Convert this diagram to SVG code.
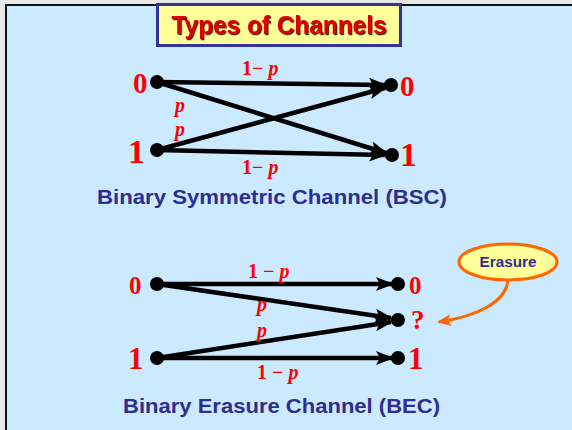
<svg xmlns="http://www.w3.org/2000/svg" width="572" height="430" viewBox="0 0 572 430">
<defs>
<marker id="ah" markerUnits="userSpaceOnUse" markerWidth="18" markerHeight="14" refX="16" refY="7" orient="auto">
<path d="M0,0 L18,7 L0,14 L4,7 Z" fill="#000"/>
</marker>
<marker id="ao" markerUnits="userSpaceOnUse" markerWidth="14" markerHeight="12" refX="12" refY="6" orient="auto">
<path d="M0,0 L14,6 L0,12 L3,6 Z" fill="#ff6600"/>
</marker>
<filter id="sh" x="-5%" y="-20%" width="110%" height="140%">
<feDropShadow dx="1.2" dy="1.2" stdDeviation="0.3" flood-color="#330000" flood-opacity="0.9"/>
</filter>
</defs>
<style>
.edge{stroke:#000;stroke-width:4.5;fill:none;marker-end:url(#ah)}
.dot{fill:#000}
.sym{font-family:"Liberation Serif",serif;font-weight:bold;fill:#ff0000}
.lab{font-family:"Liberation Serif",serif;font-weight:bold;fill:#ff0000;font-size:20px}
.it{font-style:italic}
.cap{font-family:"Liberation Sans",sans-serif;font-weight:bold;fill:#2e2e8f;font-size:19.5px}
</style>
<rect x="0" y="0" width="572" height="430" fill="#e8e8e8"/>
<rect x="5" y="4" width="567" height="426" fill="#111"/>
<rect x="7" y="6" width="565" height="424" fill="#cceaff"/>

<g id="title">
<rect x="157.5" y="4.5" width="243" height="41" fill="#ffff99" stroke="#333399" stroke-width="3"/>
<text x="279" y="34" text-anchor="middle" font-family="Liberation Sans,sans-serif" font-weight="bold" font-size="25" fill="#dd0000" textLength="215" lengthAdjust="spacingAndGlyphs" filter="url(#sh)">Types of Channels</text>
</g>

<g id="connectors">
<line class="edge" x1="157" y1="82" x2="385" y2="85"/>
<line class="edge" x1="157" y1="82" x2="386" y2="153"/>
<line class="edge" x1="157" y1="150" x2="385" y2="88"/>
<line class="edge" x1="157" y1="150" x2="385" y2="155"/>
<line class="edge" x1="157" y1="284" x2="392" y2="284"/>
<line class="edge" x1="157" y1="284" x2="391" y2="318"/>
<line class="edge" x1="157" y1="358" x2="391" y2="322"/>
<line class="edge" x1="157" y1="358" x2="392" y2="358"/>
<path d="M508,280 C506,302 478,316 439,322" stroke="#ff6600" stroke-width="3" fill="none" marker-end="url(#ao)"/>
</g>

<g id="bsc-in0"><circle class="dot" cx="157" cy="82" r="7"/><text class="sym" x="133" y="93" font-size="29">0</text></g>
<g id="bsc-in1"><circle class="dot" cx="157" cy="150" r="7"/><text class="sym" x="128" y="163" font-size="34">1</text></g>
<g id="bsc-out0"><circle class="dot" cx="391" cy="85" r="7"/><text class="sym" x="400" y="96" font-size="29">0</text></g>
<g id="bsc-out1"><circle class="dot" cx="392" cy="155" r="7"/><text class="sym" x="400" y="166" font-size="34">1</text></g>

<g id="bsc-labels">
<text class="lab" x="242" y="75">1− <tspan class="it">p</tspan></text>
<text class="lab it" x="175" y="112">p</text>
<text class="lab it" x="175" y="136">p</text>
<text class="lab" x="242" y="174">1− <tspan class="it">p</tspan></text>
<text class="cap" x="97" y="204" textLength="350" lengthAdjust="spacingAndGlyphs">Binary Symmetric Channel (BSC)</text>
</g>

<g id="bec-in0"><circle class="dot" cx="157" cy="284" r="7"/><text class="sym" x="129" y="294" font-size="25">0</text></g>
<g id="bec-in1"><circle class="dot" cx="157" cy="358" r="7"/><text class="sym" x="128" y="369" font-size="31">1</text></g>
<g id="bec-out0"><circle class="dot" cx="398" cy="284" r="7"/><text class="sym" x="409" y="294" font-size="25">0</text></g>
<g id="bec-outq"><circle class="dot" cx="398" cy="320" r="7"/><text class="sym" x="411" y="329" font-size="27">?</text></g>
<g id="bec-out1"><circle class="dot" cx="398" cy="358" r="7"/><text class="sym" x="408" y="369" font-size="31">1</text></g>

<g id="bec-labels">
<text class="lab" x="248" y="278">1 − <tspan class="it">p</tspan></text>
<text class="lab it" x="257" y="311">p</text>
<text class="lab it" x="257" y="337">p</text>
<text class="lab" x="257" y="379">1 − <tspan class="it">p</tspan></text>
<text class="cap" x="123" y="413" textLength="317" lengthAdjust="spacingAndGlyphs">Binary Erasure Channel (BEC)</text>
</g>

<g id="erasure">
<ellipse cx="508" cy="262" rx="49" ry="18" fill="#ffff99" stroke="#ff6600" stroke-width="3"/>
<text x="508" y="267" text-anchor="middle" font-family="Liberation Sans,sans-serif" font-weight="bold" font-size="14" fill="#2e2e8f" textLength="57" lengthAdjust="spacingAndGlyphs">Erasure</text>
</g>
</svg>
